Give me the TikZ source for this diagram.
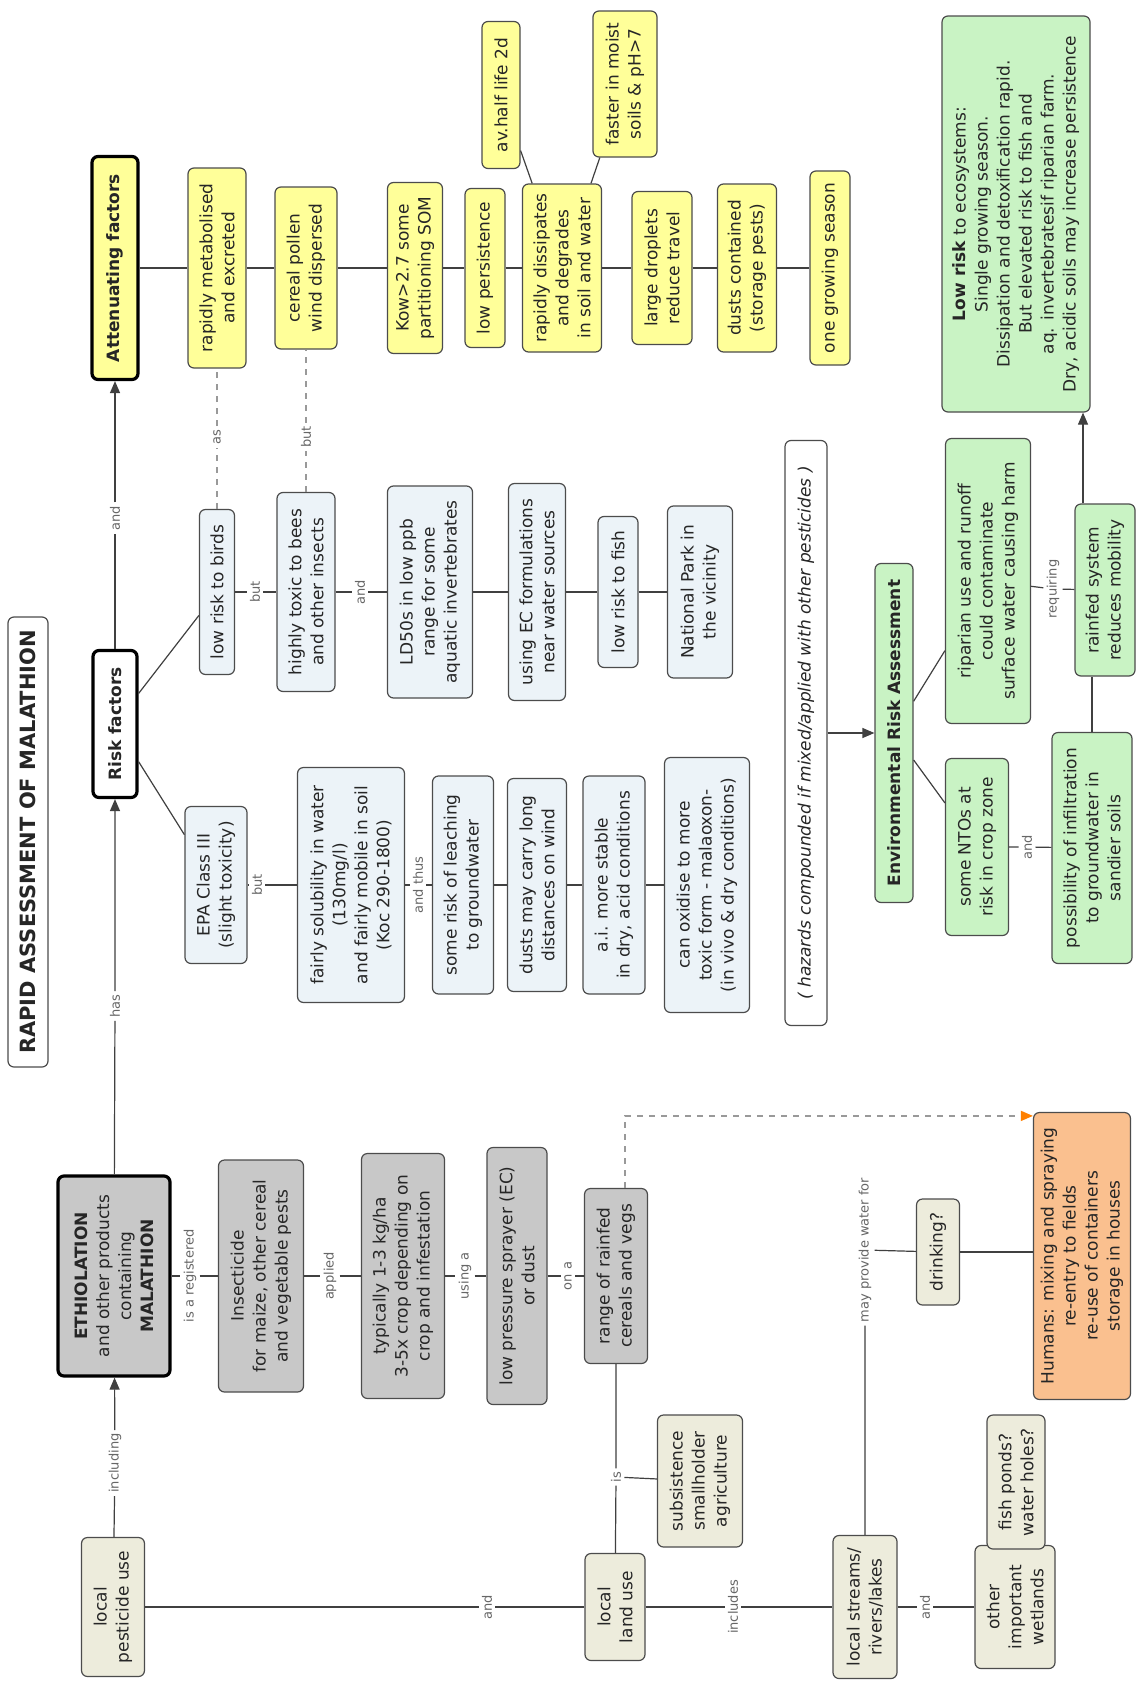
\documentclass[tikz,border=0pt]{standalone}
\usepackage{fontspec}
\setmainfont{DejaVu Sans}
\usetikzlibrary{arrows.meta}

\definecolor{yelbox}{RGB}{255,255,153}
\definecolor{bluebox}{RGB}{236,243,248}
\definecolor{greybox}{RGB}{200,200,200}
\definecolor{beigebox}{RGB}{237,236,220}
\definecolor{greenbox}{RGB}{201,243,196}
\definecolor{orangebox}{RGB}{250,192,143}

\begin{document}
\begin{tikzpicture}[x=0.5pt, y=0.5pt,
  box/.style={draw=black!70, line width=0.6pt, rounded corners=3pt, rotate=90,
    align=center, inner sep=2pt, text=black!85, font=\fontsize{8.5}{11}\selectfont},
  wh/.style 2 args={minimum width=#1*0.5pt, minimum height=#2*0.5pt},
  main/.style={box, draw=black, line width=1.6pt},
  yel/.style={box, fill=yelbox},
  blu/.style={box, fill=bluebox},
  gry/.style={box, fill=greybox},
  bei/.style={box, fill=beigebox},
  grn/.style={box, fill=greenbox},
  org/.style={box, fill=orangebox},
  lbl/.style={rotate=90, inner sep=1.5pt, text=black!60, font=\fontsize{6.5}{7}\selectfont},
  conn/.style={draw=black!75, line width=0.6pt},
  dotconn/.style={draw=black!40, line width=0.7pt, dashed},
  arr/.style={conn, -{Triangle[length=6pt, width=5pt]}}]

\path[use as bounding box, fill=white] (0,0) rectangle (1136,-1681);

\node[box, fill=white, wh={450}{40}, font=\fontsize{10.5}{12}\selectfont\bfseries] (title) at (28,-842) {RAPID ASSESSMENT OF MALATHION};

% spine
\node[main, fill=yelbox, wh={223}{46}] (attn) at (115,-268) {\textbf{Attenuating factors}};
\node[main, fill=white, wh={147}{44}] (risk) at (115,-724) {\textbf{Risk factors}};
\node[main, fill=greybox, wh={200}{112}] (ethio) at (114,-1276) {\textbf{ETHIOLATION}\\and other products\\containing\\\textbf{MALATHION}};
\node[bei, wh={139}{63}] (pest) at (113,-1607) {local\\pesticide use};

% attenuating factors
\node[yel, wh={200}{58}] (metab) at (217,-268) {rapidly metabolised\\and excreted};
\node[yel, wh={162}{62}] (pollen) at (306,-268) {cereal pollen\\wind dispersed};
\node[yel, wh={171}{55}] (kow) at (415,-268) {Kow>2.7 some\\partitioning SOM};
\node[yel, wh={159}{40}] (persist) at (485,-268) {low persistence};
\node[yel, wh={168}{79}] (dissip) at (562,-268) {rapidly dissipates\\and degrades\\in soil and water};
\node[yel, wh={147}{38}] (halflife) at (501,-95) {av.half life 2d};
\node[yel, wh={146}{64}] (faster) at (625,-84) {faster in moist\\soils \& pH>7};
\node[yel, wh={153}{60}] (droplets) at (662,-268) {large droplets\\reduce travel};
\node[yel, wh={168}{59}] (dusts) at (747,-268) {dusts contained\\(storage pests)};
\node[yel, wh={194}{40}] (season) at (830,-268) {one growing season};

% risk factors
\node[blu, wh={165}{35}] (birds) at (217,-592) {low risk to birds};
\node[blu, wh={199}{58}] (bees) at (306,-592) {highly toxic to bees\\and other insects};
\node[blu, wh={212}{85}] (ld50) at (430,-592) {LD50s in low ppb\\range for some\\aquatic invertebrates};
\node[blu, wh={217}{57}] (ecform) at (537,-592) {using EC formulations\\near water sources};
\node[blu, wh={151}{40}] (fish) at (618,-592) {low risk to fish};
\node[blu, wh={172}{65}] (park) at (700,-592) {National Park in\\the vicinity};

\node[blu, wh={157}{62}] (epa) at (216,-885) {EPA Class III\\(slight toxicity)};
\node[blu, wh={235}{107}] (solub) at (351,-885) {fairly solubility in water\\(130mg/l)\\and fairly mobile in soil\\(Koc 290-1800)};
\node[blu, wh={218}{61}] (leach) at (463,-885) {some risk of leaching\\to groundwater};
\node[blu, wh={213}{59}] (wind) at (537,-885) {dusts may carry long\\distances on wind};
\node[blu, wh={218}{62}] (stable) at (614,-885) {a.i. more stable\\in dry, acid conditions};
\node[blu, wh={255}{85}] (oxid) at (707,-885) {can oxidise to more\\toxic form - malaoxon-\\(in vivo \& dry conditions)};

% product use
\node[gry, wh={232}{85}] (insect) at (261,-1276) {Insecticide\\for maize, other cereal\\and vegetable pests};
\node[gry, wh={245}{83}] (dose) at (403,-1276) {typically 1-3 kg/ha\\3-5x crop depending on\\crop and infestation};
\node[gry, wh={257}{60}] (sprayer) at (517,-1276) {low pressure sprayer (EC)\\or dust};
\node[gry, wh={175}{63}] (rainfed) at (616,-1276) {range of rainfed\\cereals and vegs};

\node[bei, wh={107}{60}] (landuse) at (615,-1607) {local\\land use};
\node[bei, wh={132}{85}] (subsist) at (700,-1481) {subsistence\\smallholder\\agriculture};
\node[bei, wh={143}{64}] (streams) at (865,-1607) {local streams/\\rivers/lakes};
\node[bei, wh={123}{80}] (wetlands) at (1015,-1607) {other\\important\\wetlands};
\node[bei, wh={134}{58}] (ponds) at (1016,-1482) {fish ponds?\\water holes?};
\node[bei, wh={106}{43}] (drinking) at (938,-1252) {drinking?};
\node[org, wh={287}{97}] (humans) at (1082,-1256) {Humans: mixing and spraying\\re-entry to fields\\re-use of containers\\storage in houses};

% assessment
\node[box, fill=white, wh={585}{42}, font=\fontsize{8.5}{11}\selectfont\itshape] (hazards) at (806,-733) {( hazards compounded if mixed/applied with other pesticides )};
\node[grn, wh={339}{38}] (era) at (894,-733) {\textbf{Environmental Risk Assessment}};
\node[grn, wh={285}{85}] (riparian) at (988,-581) {riparian use and runoff\\could contaminate\\surface water causing harm};
\node[grn, wh={177}{63}] (ntos) at (977,-847) {some NTOs at\\risk in crop zone};
\node[grn, wh={231}{80}] (infil) at (1092,-848) {possibility of infiltration\\to groundwater in\\sandier soils};
\node[grn, wh={172}{60}] (mobility) at (1105,-590) {rainfed system\\reduces mobility};
\node[grn, wh={396}{148}] (lowrisk) at (1016,-214) {\textbf{Low risk} to ecosystems:\\Single growing season.\\Dissipation and detoxification rapid.\\But elevated risk to fish and\\aq. invertebratesif riparian farm.\\Dry, acidic soils may increase persistence};

% linking phrases
\node[lbl] (l_incl) at (115,-1463) {including};
\node[lbl] (l_has) at (115,-1006) {has};
\node[lbl] (l_and0) at (115,-518) {and};
\node[lbl] (l_as) at (217,-437) {as};
\node[lbl] (l_but0) at (306,-437) {but};
\node[lbl] (l_but1) at (255,-592) {but};
\node[lbl] (l_and1) at (360,-592) {and};
\node[lbl] (l_but2) at (257,-885) {but};
\node[lbl] (l_thus) at (418,-885) {and thus};
\node[lbl] (l_reg) at (190,-1276) {is a registered};
\node[lbl] (l_appl) at (330,-1276) {applied};
\node[lbl] (l_using) at (465,-1276) {using a};
\node[lbl] (l_ona) at (568,-1276) {on a};
\node[lbl] (l_is) at (616,-1477) {is};
\node[lbl] (l_and2) at (487,-1607) {and};
\node[lbl] (l_incl2) at (733,-1607) {includes};
\node[lbl] (l_and3) at (925,-1607) {and};
\node[lbl] (l_water) at (865,-1250) {may provide water for};
\node[lbl] (l_and4) at (1027,-847) {and};
\node[lbl] (l_req) at (1053,-589) {requiring};

% connectors
\draw[arr] (pest) -- (l_incl) -- (ethio);
\draw[arr] (ethio) -- (l_has) -- (risk);
\draw[arr] (risk) -- (l_and0) -- (attn);

\draw[conn] (attn) -- (metab) -- (pollen) -- (kow) -- (persist) -- (dissip) -- (droplets) -- (dusts) -- (season);
\draw[conn] (dissip) -- (halflife);
\draw[conn] (dissip) -- (faster);

\draw[conn] (risk) -- (birds);
\draw[conn] (risk) -- (epa);
\draw[conn] (birds) -- (l_but1) -- (bees) -- (l_and1) -- (ld50) -- (ecform) -- (fish) -- (park);
\draw[dotconn] (birds) -- (l_as) -- (metab);
\draw[dotconn] (bees) -- (l_but0) -- (pollen);
\draw[conn] (epa) -- (l_but2) -- (solub) -- (l_thus) -- (leach) -- (wind) -- (stable) -- (oxid);

\draw[conn] (ethio) -- (l_reg) -- (insect) -- (l_appl) -- (dose) -- (l_using) -- (sprayer) -- (l_ona) -- (rainfed);
\draw[conn] (rainfed) -- (l_is) -- (landuse);
\draw[conn] (l_is) -- (subsist);
\draw[conn] (pest) -- (l_and2) -- (landuse) -- (l_incl2) -- (streams) -- (l_and3) -- (wetlands);
\draw[conn] (streams) -- (l_water) -- (drinking);
\draw[conn] (drinking) -- (drinking -| humans.north);
\draw[dotconn, -{Triangle[length=6pt, width=5pt, color=orange]}] ([xshift=4.5pt]rainfed.east) |- ([yshift=-2pt]humans.north east);

\draw[arr] (hazards) -- (era);
\draw[conn] (era) -- (riparian);
\draw[conn] (era) -- (ntos);
\draw[conn] (ntos) -- (l_and4) -- (infil);
\draw[conn] (riparian) -- (l_req) -- (mobility);
\draw[conn] (infil) -- (infil |- mobility.west);
\draw[arr] ([xshift=-11pt]mobility.east) -- ([xshift=-11pt]mobility.east |- lowrisk.west);
\end{tikzpicture}
\end{document}
